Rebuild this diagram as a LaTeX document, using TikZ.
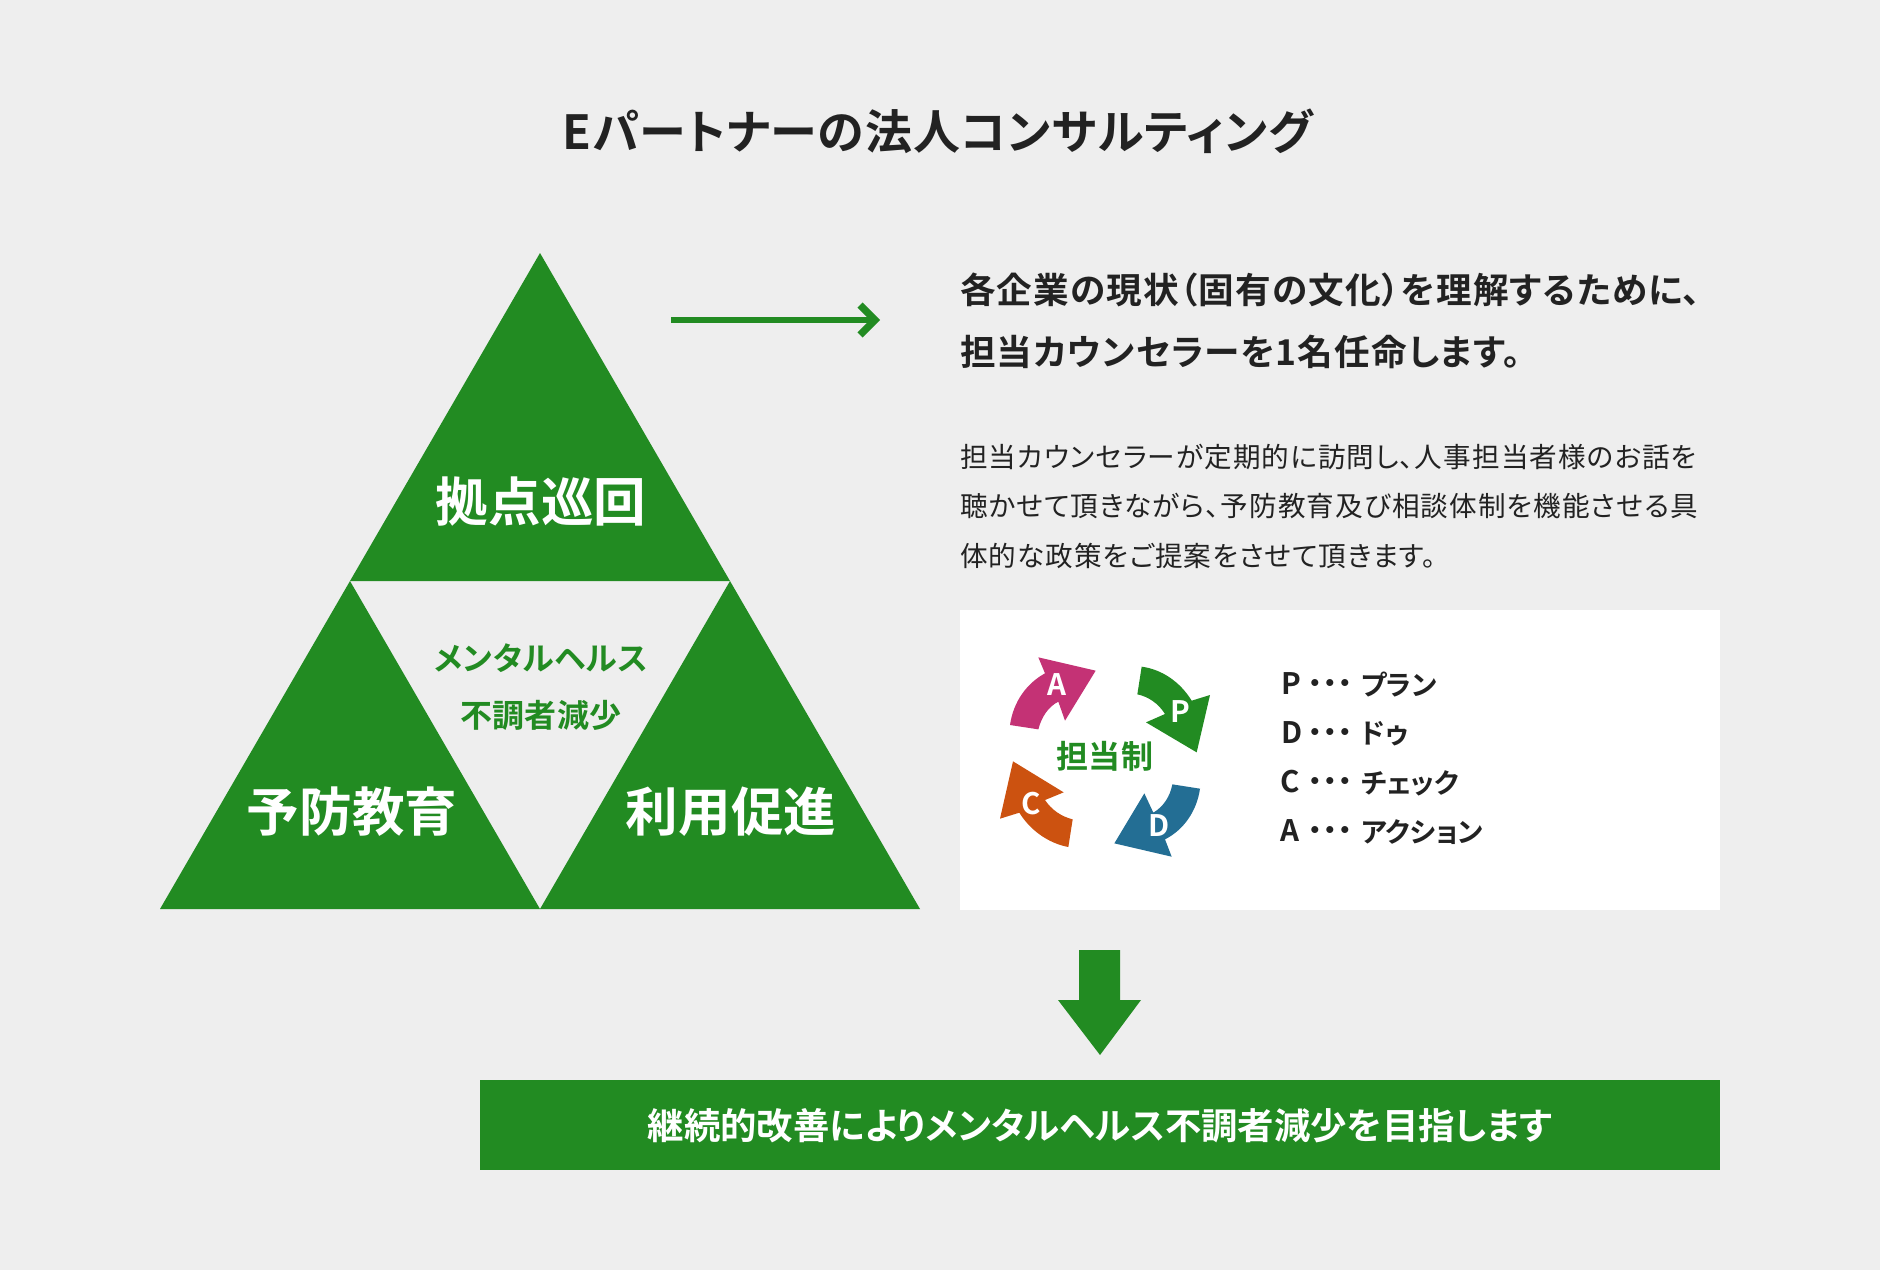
\documentclass[tikz,border=0pt]{standalone}
\usepackage{fontspec}
\setmainfont{Noto Sans CJK JP}[RawFeature=+palt,BoldFont={Noto Sans CJK JP Bold}]
\newfontfamily\headfont{Noto Sans CJK JP Bold}[RawFeature=+palt,LetterSpace=3.2]
\newfontfamily\bodyfont{Noto Sans CJK JP}[RawFeature=+palt,LetterSpace=4]
\newfontfamily\titlefont{Noto Sans CJK JP Bold}[RawFeature=+palt,LetterSpace=2]
\newfontfamily\midfont{Noto Sans CJK JP Bold}[RawFeature=+palt,LetterSpace=1.5]
\definecolor{bgc}{HTML}{EEEEEE}
\definecolor{grn}{HTML}{228B22}
\definecolor{ink}{HTML}{222222}
\definecolor{mag}{HTML}{C43275}
\definecolor{blu}{HTML}{236E94}
\definecolor{org}{HTML}{CC5210}
\newcommand{\fsz}[1]{\fontsize{#1}{#1}\selectfont}
\newcommand{\threedots}{\makebox[7.5pt]{・}\makebox[7.5pt]{・}\makebox[7.5pt]{・}}
\tikzset{
  lbl/.style={inner sep=0pt,outer sep=0pt,font=\bfseries},
  tri/.style={fill=grn,draw=none},
  tlabel/.style={lbl,text=white,font=\bfseries\fsz{26.3pt}},
  mlabel/.style={lbl,text=grn,font=\midfont\fsz{16pt}},
  head/.style={lbl,text=ink,anchor=west,font=\headfont\fsz{17.8pt}},
  body/.style={inner sep=0pt,outer sep=0pt,text=ink,anchor=west,font=\bodyfont\fsz{13.8pt}},
  listitem/.style={lbl,text=ink,anchor=west,font=\bfseries\fsz{13.8pt}},
  listletter/.style={lbl,text=ink,anchor=west,font=\bfseries\fsz{14.8pt}},
  cyc/.style={lbl,text=white,font=\bfseries\fsz{14.8pt}},
}
\begin{document}
\begin{tikzpicture}[x=0.5pt,y=-0.5pt]
\fill[bgc] (0,0) rectangle (1880,1270);
\useasboundingbox (0,0) rectangle (1880,1270);
\node[lbl,text=ink,font=\titlefont\fsz{23.5pt}] (title) at (938,131) {Eパートナーの法人コンサルティング};
% triangles
\fill[tri] (540,253) -- (730,581) -- (350,581) -- cycle;
\fill[tri] (350,581) -- (540,909) -- (160,909) -- cycle;
\fill[tri] (730,581) -- (920,909) -- (540,909) -- cycle;
\node[tlabel] (t1) at (541,502) {拠点巡回};
\node[tlabel] (t2) at (352,812) {予防教育};
\node[tlabel] (t3) at (731,812) {利用促進};
\node[mlabel] (m1) at (541,658) {メンタルヘルス};
\node[mlabel] (m2) at (541,715) {不調者減少};
% pointer arrow
\coordinate (pa) at (671,320);
\coordinate (pb) at (875,320);
\draw[grn,line width=3pt] (pa) -- (pb);
\draw[grn,line width=3.6pt,miter limit=4] ([shift={(-15,-15)}]pb) -- (pb) -- ([shift={(-15,15)}]pb);
% text
\node[head] (h1) at (960,290) {各企業の現状（固有の文化）を理解するために、};
\node[head] (h2) at (960,352) {担当カウンセラーを1名任命します。};
\node[body] (b1) at (960,457) {担当カウンセラーが定期的に訪問し、人事担当者様のお話を};
\node[body] (b2) at (960,506) {聴かせて頂きながら、予防教育及び相談体制を機能させる具};
\node[body] (b3) at (960,556) {体的な政策をご提案をさせて頂きます。};
% white panel
\fill[white] (960,610) rectangle (1720,910);
\begin{scope}[shift={(980,630)},x=0.16667pt,y=-0.16667pt]
\fill[mag] (90,285) -- (175,298) .. controls (185,260) and (205,230) .. (235,215) -- (255,272) -- (347,122) -- (175,82) -- (195,130) .. controls (140,160) and (100,215) .. cycle;
\fill[grn] (485,110) .. controls (545,118) and (600,155) .. (635,212) -- (690,195) -- (650,367) -- (498,277) -- (555,252) .. controls (535,220) and (505,200) .. (472,193) -- cycle;
\fill[blu] (660,476) .. controls (650,545) and (610,600) .. (555,628) -- (575,680) -- (403,640) -- (493,490) -- (520,548) .. controls (550,530) and (570,500) .. (577,463) -- cycle;
\fill[org] (265,651) .. controls (205,640) and (150,600) .. (118,548) -- (60,566) -- (99,394) -- (251,487) -- (195,510) .. controls (215,540) and (245,560) .. (278,568) -- cycle;
\node[cyc] (ca) at (232,165) {A};
\node[cyc] (cp) at (601,245) {P};
\node[cyc] (cd) at (538,587) {D};
\node[cyc] (cc) at (153,520) {C};
\node[mlabel] (cm) at (375,380) {担当制};
\end{scope}
% list
\node[listletter] (l1) at (1281,684) {P};
\node[listletter] (l2) at (1281,733) {D};
\node[listletter] (l3) at (1280,782) {C};
\node[listletter] (l4) at (1280,831) {A};
\foreach \n/\y/\t in {d1/684/プラン,d2/733/ドゥ,d3/782/チェック,d4/831/アクション}{
  \node[listitem] at (1308,\y+2.5) {\threedots};
  \node[listitem] (\n) at (1361,\y+1) {\t};
}
% down arrow
\fill[grn] (1079,950) -- (1120,950) -- (1120,1000) -- (1141,1000) -- (1100,1055) -- (1058,1000) -- (1079,1000) -- cycle;
% bar
\fill[grn] (480,1080) rectangle (1720,1170);
\node[lbl,text=white,font=\bfseries\fsz{18.2pt}] (bar) at (1100,1126) {継続的改善によりメンタルヘルス不調者減少を目指します};
\end{tikzpicture}
\end{document}
